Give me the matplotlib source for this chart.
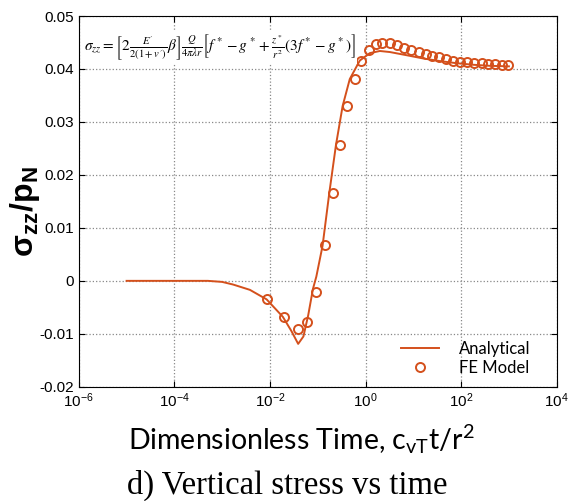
import numpy as np
import matplotlib
matplotlib.use("Agg")
import matplotlib.pyplot as plt

plt.rcParams["font.family"] = ["Liberation Sans", "DejaVu Sans"]
plt.rcParams["mathtext.fontset"] = "custom"
plt.rcParams["mathtext.rm"] = "Liberation Sans"
plt.rcParams["mathtext.it"] = "Liberation Sans:italic"
plt.rcParams["mathtext.bf"] = "Liberation Sans:bold"

# analytical solution (log10 of dimensionless time, sigma_zz / p_N)
line_logt = [-5, -4, -3.3, -3.0, -2.77, -2.42, -2.07, -1.73, -1.55, -1.41, -1.30, -1.20,
             -1.10, -1.03, -0.90, -0.76, -0.62, -0.48, -0.33, -0.12, 0.09, 0.30, 0.51,
             0.86, 1.20, 1.55, 1.90, 2.25, 2.60, 3.0]
line_val = [0, 0, 0, -0.0002, -0.0007, -0.0017, -0.0035, -0.0068, -0.0095, -0.0119, -0.0105,
            -0.0065, -0.0015, 0.0008, 0.0066, 0.0165, 0.0256, 0.0330, 0.0381, 0.0416, 0.0430,
            0.0434, 0.0432, 0.0426, 0.0420, 0.0415, 0.0411, 0.0408, 0.0406, 0.0405]

# FE model points
fe_logt = [-2.06, -1.70, -1.42, -1.22, -1.03, -0.85, -0.69, -0.53, -0.38, -0.22, -0.09, 0.07,
           0.21, 0.35, 0.51, 0.66, 0.80, 0.95, 1.11, 1.26, 1.40, 1.54, 1.69, 1.83, 1.97,
           2.12, 2.26, 2.43, 2.56, 2.70, 2.86, 2.98]
fe_val = [-0.0034, -0.0069, -0.0091, -0.0077, -0.0021, 0.0067, 0.0165, 0.0256, 0.0330, 0.0381,
          0.0416, 0.0436, 0.0447, 0.0449, 0.0449, 0.0445, 0.0440, 0.0436, 0.0433, 0.0429,
          0.0425, 0.0422, 0.0419, 0.0416, 0.0414, 0.0413, 0.0412, 0.0411, 0.0409, 0.0409,
          0.0408, 0.0407]

RED = "#d4501c"

fig = plt.figure(figsize=(5.71, 5.01), dpi=100)
ax = fig.add_axes([0.138, 0.228, 0.837, 0.740])

ax.plot(10.0 ** np.array(line_logt), line_val, color=RED, lw=1.4, label="Analytical")
ax.plot(10.0 ** np.array(fe_logt), fe_val, "o", mfc="none", mec=RED, ms=6.5, mew=1.4,
        label="FE Model")

ax.set_xscale("log")
ax.set_xlim(1e-6, 1e4)
ax.set_ylim(-0.02, 0.05)
ax.set_xticks([1e-6, 1e-4, 1e-2, 1e0, 1e2, 1e4])
ax.minorticks_off()
ax.set_yticks(np.arange(-0.02, 0.051, 0.01))
ax.set_yticklabels(["-0.02", "-0.01", "0", "0.01", "0.02", "0.03", "0.04", "0.05"])
ax.tick_params(direction="in", top=True, right=True, labelsize=11, length=4)
ax.grid(True, ls=":", color="#888888", lw=0.9)

ax.set_ylabel(r"$\mathbf{\sigma_{zz}/p_N}$", fontsize=23)
ax.yaxis.set_label_coords(-0.077, 0.472)
ax.set_xlabel(r"Dimensionless Time, c$_{\mathregular{vT}}$t/r$^{\mathregular{2}}$",
              fontsize=20.5, family="Lato", labelpad=8)
ax.xaxis.set_label_coords(0.466, -0.095)

leg = ax.legend(loc="lower right", bbox_to_anchor=(0.946, 0.03), frameon=False,
                prop={"family": "Lato", "size": 12}, handlelength=2.3, handletextpad=1.2,
                borderaxespad=0, borderpad=0, labelspacing=0.15)

ax.text(0.01, 0.915,
        r"$\sigma_{zz}=\left[2\frac{E'}{2(1+v')}\beta\right]\frac{Q}{4\pi\lambda r}"
        r"\left[f^*-g^*+\frac{z^*}{r^2}(3f^*-g^*)\right]$",
        transform=ax.transAxes, fontsize=11, math_fontfamily="stix", va="center", ha="left",
        bbox=dict(facecolor="white", edgecolor="none", pad=1))

fig.text(0.503, 0.032, "d) Vertical stress vs time", ha="center", va="center",
         fontsize=23.5, family="Liberation Serif")

fig.savefig("out.png", dpi=100)
